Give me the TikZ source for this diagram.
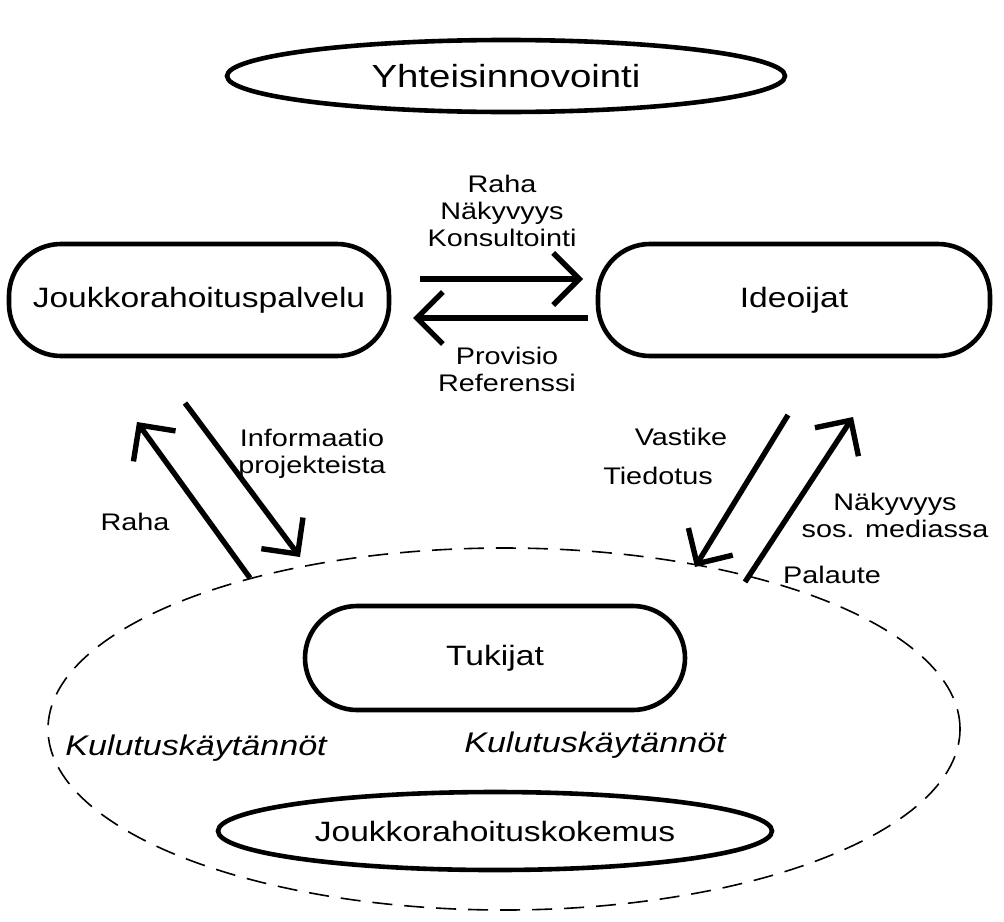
\documentclass[tikz,border=0pt]{standalone}
\usepackage{fontspec}
\setmainfont{Liberation Sans}[FakeStretch=1.2]
\usepackage{tikz}
\usetikzlibrary{shapes.geometric, arrows.meta, positioning}
\definecolor{mydark}{RGB}{0,0,0}
\tikzset{
  oval/.style={ellipse, draw=mydark, line width=2.3pt, inner sep=0pt,
    font=\fontsize{14}{16}\selectfont},
  pill/.style={rectangle, draw=mydark, line width=2.3pt, rounded corners=26pt,
    inner sep=0pt, font=\fontsize{14}{16}\selectfont},
  cloud/.style={ellipse, draw=mydark, line width=0.8pt,
    dash pattern=on 10pt off 6pt},
  lbl/.style={align=center, inner sep=0pt, font=\fontsize{12}{13.5}\selectfont},
  practice/.style={inner sep=0pt, font=\fontsize{14.2}{16}\selectfont\itshape},
  flow/.style={-{Straight Barb[length=13pt,width=26pt]}, line width=2.7pt, color=mydark}
}

\begin{document}
\begin{tikzpicture}[x=0.5pt, y=-0.5pt]
  \useasboundingbox (0,0) rectangle (1004,921);

  % kuplat ja laatikot
  \node[oval, minimum width=279pt, minimum height=36pt,
    font=\fontsize{16}{18}\selectfont] (yhteis) at (506,76) {Yhteisinnovointi};
  \node[pill, minimum width=190pt, minimum height=56pt] (palvelu) at (199,300) {Joukkorahoituspalvelu};
  \node[pill, minimum width=196pt, minimum height=56pt] (ideoijat) at (794,300) {Ideoijat};
  \node[cloud, minimum width=456pt, minimum height=181pt] (kulutus) at (504,729) {};
  \node[pill, minimum width=190pt, minimum height=52pt] (tukijat) at (495,658) {Tukijat};
  \node[oval, minimum width=277pt, minimum height=39pt] (kokemus) at (495,831) {Joukkorahoituskokemus};

  \node[practice] (kaytL) at (196,748) {Kulutuskäytännöt};
  \node[practice] (kaytR) at (595,745) {Kulutuskäytännöt};

  % nuolten päät
  \coordinate (pi1) at (420,279);
  \coordinate (ip1) at (583,279);
  \coordinate (ip2) at (588,318);
  \coordinate (pi2) at (413,318);
  \coordinate (tp1) at (250,578);
  \coordinate (pt1) at (137,422);
  \coordinate (pt2) at (185,403);
  \coordinate (tp2) at (300,557);
  \coordinate (it1) at (788,415);
  \coordinate (ti1) at (695,567);
  \coordinate (ti2) at (745,582);
  \coordinate (it2) at (853,417);

  \draw[flow] (pi1) -- (ip1);
  \draw[flow] (ip2) -- (pi2);
  \draw[flow] (tp1) -- (pt1);
  \draw[flow] (pt2) -- (tp2);
  \draw[flow] (it1) -- (ti1);
  \draw[flow] (ti2) -- (it2);

  % tekstit
  \node[lbl] (rahaTop) at (502,211) {Raha\\Näkyvyys\\Konsultointi};
  \node[lbl] (provisio) at (507,369) {Provisio\\Referenssi};
  \node[lbl] (rahaL) at (135,522) {Raha};
  \node[lbl] (info) at (312,454) {Informaatio\\ projekteista};
  \node[lbl] (vastike) at (681,437) {Vastike};
  \node[lbl] (tiedotus) at (658,476) {Tiedotus};
  \node[lbl] (nakyvyys) at (895,515) {Näkyvyys\\sos. mediassa};
  \node[lbl] (palaute) at (832,575) {Palaute};
\end{tikzpicture}
\end{document}
